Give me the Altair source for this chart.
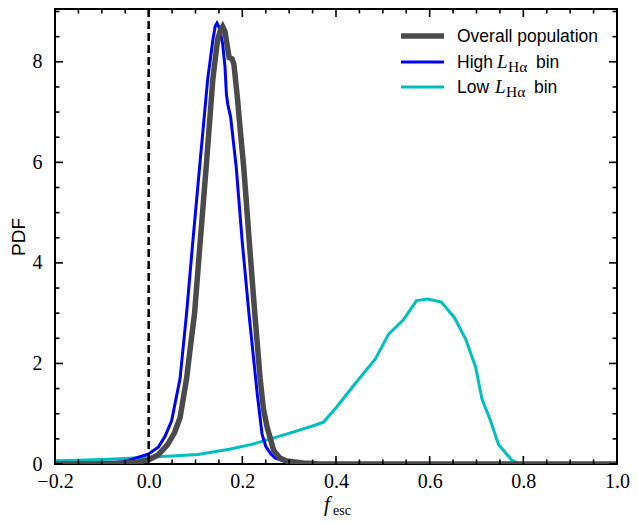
import altair as alt
import pandas as pd

# ---------------- data ----------------
overall_x = [-0.2, -0.1, -0.05, -0.025, 0.0, 0.02, 0.04, 0.055, 0.067, 0.081, 0.09, 0.098,
             0.109, 0.123, 0.137, 0.147, 0.153, 0.158, 0.163, 0.168, 0.172, 0.178, 0.182,
             0.189, 0.196, 0.203, 0.215, 0.227, 0.238, 0.245, 0.253, 0.267, 0.28, 0.295,
             0.33, 0.36, 0.4, 0.6, 0.8, 1.0]
overall_y = [0.0, 0.005, 0.015, 0.035, 0.08, 0.18, 0.38, 0.62, 0.92, 1.70, 2.4, 3.0,
             4.3, 5.93, 7.65, 8.43, 8.62, 8.70, 8.6, 8.3, 8.08, 8.06, 7.95,
             7.33, 6.6, 5.9, 4.4, 2.95, 1.70, 1.1, 0.73, 0.27, 0.12, 0.06,
             0.02, 0.005, 0.0, 0.0, 0.0, 0.0]

high_x = [-0.2, -0.1, -0.05, 0.0, 0.021, 0.035, 0.049, 0.067, 0.081, 0.095, 0.109, 0.126,
          0.137, 0.142, 0.146, 0.152, 0.158, 0.163, 0.166, 0.169, 0.175, 0.187, 0.2, 0.214,
          0.224, 0.232, 0.242, 0.25, 0.26, 0.27, 0.288, 0.31, 0.35, 0.6, 1.0]
high_y = [0.0, 0.01, 0.05, 0.2, 0.34, 0.55, 0.86, 1.70, 3.0, 4.5, 5.93, 7.65,
          8.43, 8.7, 8.77, 8.65, 8.35, 7.9, 7.35, 7.15, 6.9, 5.9, 4.4, 3.0,
          2.1, 1.38, 0.6, 0.35, 0.21, 0.12, 0.06, 0.02, 0.0, 0.0, 0.0]

low_x = [-0.2, -0.15, -0.1, -0.05, 0.0, 0.05, 0.105, 0.175, 0.22, 0.26, 0.31, 0.358,
         0.373, 0.40, 0.442, 0.484, 0.512, 0.544, 0.572, 0.596, 0.625, 0.653, 0.677,
         0.698, 0.712, 0.730, 0.747, 0.775, 0.79, 0.85, 1.0]
low_y = [0.065, 0.075, 0.09, 0.11, 0.14, 0.16, 0.19, 0.30, 0.39, 0.50, 0.64, 0.78,
         0.83, 1.12, 1.61, 2.09, 2.58, 2.87, 3.25, 3.28, 3.22, 2.91, 2.48,
         1.93, 1.28, 0.86, 0.39, 0.08, 0.01, 0.0, 0.0]

series_names = ["Overall population", "High L_Hα bin", "Low L_Hα bin"]
series_colors = ["#4a4a4a", "#0000ff", "#00bfbf"]
series_widths = [5.5, 3, 3]

vline_x = [0.0]

x_major = [-0.2, 0.0, 0.2, 0.4, 0.6, 0.8, 1.0]
x_minor = [-0.15, -0.1, -0.05, 0.05, 0.1, 0.15, 0.25, 0.3, 0.35, 0.45, 0.5, 0.55,
           0.65, 0.7, 0.75, 0.85, 0.9, 0.95]
y_major = [0, 2, 4, 6, 8]
y_minor = [0.5, 1, 1.5, 2.5, 3, 3.5, 4.5, 5, 5.5, 6.5, 7, 7.5, 8.5, 9]

# ---------------- build table ----------------
rows = []
for name, xs, ys in zip(series_names, [overall_x, high_x, low_x], [overall_y, high_y, low_y]):
    for a, b in zip(xs, ys):
        rows.append({"series": name, "f": a, "pdf": b})
df = pd.DataFrame(rows)

W, H = 562, 455
XS = alt.Scale(domain=[-0.2, 1.0], nice=False, zero=False)
YS = alt.Scale(domain=[0, 9.05], nice=False, zero=False)

SERIF = "Liberation Serif"
SANS = "Liberation Sans"
MAJ, MIN = 8, 4.5

x_axis = alt.Axis(orient="bottom", values=x_major, ticks=False, tickSize=0, domain=False,
                  grid=False, labelFont=SERIF, labelFontSize=20, labelPadding=7,
                  labelColor="black", format=".1f", labelFlush=False, labelOverlap=False,
                  title=None)
y_axis = alt.Axis(orient="left", values=y_major, ticks=False, tickSize=0, domain=False,
                  grid=False, labelFont=SERIF, labelFontSize=20, labelPadding=13,
                  labelColor="black", format="d", labelFlush=False, labelOverlap=False,
                  title="PDF", titleFont=SANS, titleFontSize=19, titleFontWeight="normal",
                  titleColor="black", titlePadding=4)


def curve(i, with_axes=False):
    return alt.Chart(df).transform_filter(
        alt.datum.series == series_names[i]
    ).mark_line(color=series_colors[i], strokeWidth=series_widths[i], clip=True).encode(
        x=alt.X("f:Q", scale=XS, axis=x_axis if with_axes else None),
        y=alt.Y("pdf:Q", scale=YS, axis=y_axis if with_axes else None),
        order="f:Q",
    )


low_layer = curve(2, with_axes=True)
high_layer = curve(1)
overall_layer = curve(0)

vline = alt.Chart(pd.DataFrame({"f": vline_x})).mark_rule(
    color="black", strokeWidth=2.5, strokeDash=[8, 4]
).encode(x=alt.X("f:Q", scale=XS, axis=None))


def xticks(values, length):
    base = alt.Chart(pd.DataFrame({"v": values})).mark_rule(color="black", strokeWidth=1.6)
    bottom = base.encode(x=alt.X("v:Q", scale=XS, axis=None), y=alt.value(H), y2=alt.value(H - length))
    top = base.encode(x=alt.X("v:Q", scale=XS, axis=None), y=alt.value(0), y2=alt.value(length))
    return [bottom, top]


def yticks(values, length):
    base = alt.Chart(pd.DataFrame({"v": values})).mark_rule(color="black", strokeWidth=1.6)
    left = base.encode(y=alt.Y("v:Q", scale=YS, axis=None), x=alt.value(0), x2=alt.value(length))
    right = base.encode(y=alt.Y("v:Q", scale=YS, axis=None), x=alt.value(W), x2=alt.value(W - length))
    return [left, right]


ticks = xticks(x_major, MAJ) + xticks(x_minor, MIN) + yticks(y_major, MAJ) + yticks(y_minor, MIN)


def txt(text, x, y, font=SANS, size=17.5, style="normal", align="left"):
    return alt.Chart(pd.DataFrame({"t": [text]})).mark_text(
        text=text, font=font, fontSize=size, fontStyle=style, align=align,
        baseline="alphabetic", color="black"
    ).encode(x=alt.value(x), y=alt.value(y))


LX = W - 216  # legend anchored to the upper right corner


def legline(i, y):
    return alt.Chart(pd.DataFrame({"t": [series_names[i]]})).mark_rule(
        color=series_colors[i], strokeWidth=series_widths[i]
    ).encode(x=alt.value(LX), x2=alt.value(LX + 43), y=alt.value(y))


legend = [
    legline(0, 27), txt("Overall population", LX + 56, 33),
    legline(1, 53), txt("High", LX + 56, 59), txt("L", LX + 96, 59, SERIF, 19, "italic"),
    txt("Hα", LX + 107, 63, SERIF, 15.5), txt("bin", LX + 135, 59),
    legline(2, 78), txt("Low", LX + 56, 84), txt("L", LX + 94, 84, SERIF, 19, "italic"),
    txt("Hα", LX + 105, 88, SERIF, 15.5), txt("bin", LX + 133, 84),
]

xtitle = [txt("f", W / 2 - 9, H + 47, SERIF, 21, "italic", "center"),
          txt("esc", W / 2 - 3, H + 51, SERIF, 14)]

chart = alt.layer(
    low_layer, high_layer, overall_layer, vline, *ticks, *legend, *xtitle
).resolve_axis(
    x="independent", y="independent"
).properties(
    width=W, height=H,
    autosize=alt.AutoSizeParams(type="none"),
    padding={"left": 47, "top": 1, "right": 13, "bottom": 53},
    background="white",
).configure_view(stroke="black", strokeWidth=2)

chart.save("out.html", embed_options={"renderer": "svg", "actions": False})
